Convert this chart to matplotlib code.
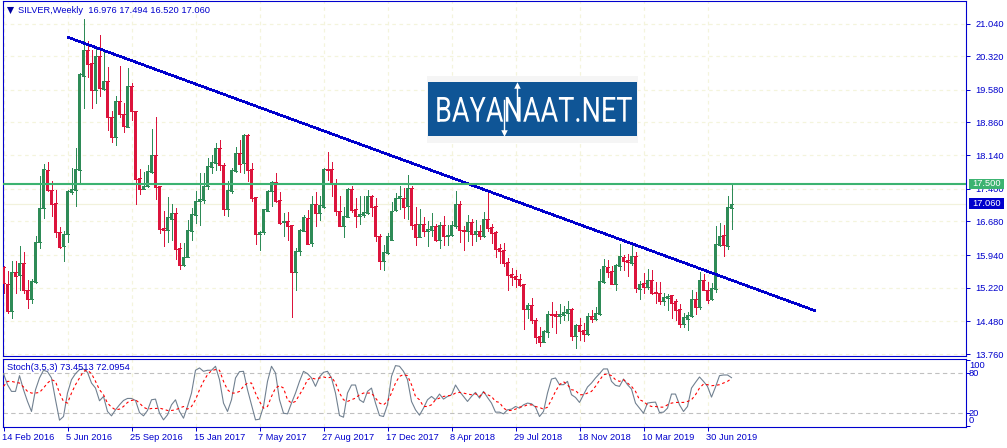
import matplotlib
matplotlib.use("Agg")
import matplotlib.pyplot as plt
from matplotlib.patches import Rectangle
from matplotlib.patheffects import AbstractPathEffect
from matplotlib.transforms import Affine2D, ScaledTranslation
from matplotlib.ticker import NullFormatter

symbol_title = "SILVER,Weekly  16.976 17.494 16.520 17.060"
stoch_title = "Stoch(3,5,3) 73.4513 72.0954"
brand = "BAYANAAT.NET"

opens = [15.67,15.31,14.70,15.57,15.49,15.76,15.17,14.97,15.35,16.22,16.97,17.82,17.38,17.08,16.45,16.13,16.41,17.32,17.38,17.82,
19.89,20.45,20.16,19.57,20.33,19.60,19.78,18.98,18.53,19.34,19.05,18.76,19.67,19.12,17.64,17.40,17.45,17.78,18.15,17.45,
16.54,16.50,16.74,16.87,16.10,15.72,15.90,16.48,16.83,17.12,17.16,17.45,17.89,17.96,18.30,17.92,16.96,17.36,17.80,18.19,
17.96,18.59,17.84,17.22,16.40,16.44,16.92,17.34,17.54,17.16,16.66,16.69,16.61,15.57,16.02,16.48,16.76,16.20,17.07,16.86,
16.99,17.83,17.84,17.52,16.91,16.58,16.78,17.40,16.96,16.80,16.82,16.87,17.24,17.02,16.36,15.81,15.99,16.27,16.94,17.20,
17.20,17.02,17.42,16.63,16.34,16.63,16.47,16.49,16.58,16.27,16.60,16.37,16.38,16.58,17.07,16.49,16.47,16.67,16.41,16.47,
16.35,16.74,16.56,16.45,16.10,16.05,15.79,15.52,15.48,15.41,15.30,14.75,14.84,14.51,14.16,14.02,14.24,14.64,14.64,14.60,
14.62,14.66,14.75,14.16,14.40,14.29,14.20,14.60,14.53,14.64,15.35,15.68,15.59,15.30,15.70,15.90,15.83,15.77,15.92,15.19,
15.32,15.24,15.39,15.13,15.10,14.93,15.00,15.05,14.92,14.75,14.42,14.53,14.60,14.97,14.80,15.39,15.17,14.97,15.19,16.16,
16.38,16.14,16.976]
highs = [15.69,15.58,15.80,15.80,16.14,16.00,15.39,15.41,16.36,17.69,17.95,17.99,17.58,17.38,16.56,16.46,17.38,17.86,18.30,19.94,
21.13,20.65,20.45,20.54,20.78,20.43,20.08,19.11,19.44,20.11,19.28,20.06,19.72,19.12,17.84,17.78,17.92,18.72,18.98,17.47,
16.91,17.22,17.07,16.97,16.20,16.20,16.72,16.97,17.34,17.75,17.75,18.08,18.14,18.41,18.48,17.97,17.56,17.86,18.31,18.48,
18.61,18.61,17.97,17.22,16.46,16.96,17.38,17.58,17.75,17.32,16.86,16.89,16.61,16.09,16.51,16.83,16.94,17.25,17.33,17.23,
17.86,18.22,17.98,17.61,17.24,16.99,17.41,17.46,17.19,17.25,17.25,17.38,17.27,17.19,16.41,16.16,16.42,17.11,17.30,17.45,
17.41,17.71,17.46,16.99,16.96,16.77,16.70,16.86,16.63,16.67,16.80,16.60,16.68,17.35,17.12,16.58,16.82,16.73,16.71,16.60,
16.88,17.34,16.63,16.47,16.19,16.20,15.87,15.65,15.61,15.52,15.30,14.88,14.99,14.55,14.36,14.29,14.71,14.91,14.71,14.86,
14.82,14.93,14.77,14.42,14.55,14.44,14.67,14.73,14.80,15.63,15.85,15.83,15.69,15.74,16.19,15.94,15.96,16.20,16.01,15.37,
15.54,15.63,15.60,15.35,15.35,15.10,15.08,15.06,14.97,14.86,14.67,14.69,15.17,15.12,15.57,15.52,15.35,15.32,16.58,16.64,
16.60,17.25,17.494]
lows = [15.10,14.66,14.56,15.10,15.17,15.10,14.78,14.89,15.33,16.09,16.75,17.36,16.81,16.34,16.09,15.80,16.22,17.29,17.03,17.53,
19.18,19.86,19.18,19.28,19.45,19.57,18.69,18.43,18.36,18.98,18.64,18.76,18.91,17.07,17.29,17.40,17.43,17.75,17.18,16.42,
16.14,16.22,16.28,15.86,15.63,15.69,15.89,16.28,16.64,16.61,17.08,17.40,17.75,17.82,17.82,16.83,16.81,17.31,17.78,17.78,
17.75,17.58,17.12,16.19,16.04,16.41,16.90,17.01,17.11,16.63,16.35,16.28,14.58,15.17,15.95,16.46,16.18,16.13,16.57,16.72,
16.97,17.60,17.23,16.82,16.57,16.33,16.77,16.89,16.55,16.63,16.77,16.85,16.80,16.25,15.63,15.61,15.96,16.27,16.91,16.96,
16.76,16.74,16.52,16.16,16.33,16.36,16.13,16.35,16.25,16.10,16.16,16.16,16.36,16.53,16.23,16.04,16.26,16.16,16.26,16.30,
16.33,16.46,16.21,15.89,15.76,15.69,15.17,15.28,15.24,15.26,14.31,14.55,14.45,14.01,13.94,14.02,14.14,14.36,14.23,14.45,
14.51,14.51,14.07,13.89,14.07,14.05,14.18,14.47,14.51,14.62,15.32,15.46,15.30,15.17,15.60,15.61,15.48,15.72,15.13,14.97,
15.10,15.19,15.08,14.89,14.86,14.84,14.73,14.56,14.52,14.36,14.35,14.29,14.58,14.64,14.75,15.16,14.88,14.94,15.13,16.14,
15.91,16.07,16.52]
closes = [15.32,14.70,15.57,15.47,15.76,15.16,14.97,15.37,16.23,16.98,17.84,17.38,17.07,16.44,16.11,16.41,17.34,17.40,17.84,19.92,
20.45,20.14,19.57,20.33,19.61,19.78,18.97,18.53,19.34,19.05,18.78,19.67,19.11,17.62,17.40,17.47,17.80,18.15,17.43,16.52,
16.50,16.78,16.86,16.08,15.71,15.90,16.50,16.85,17.14,17.18,17.47,17.91,17.98,18.30,17.92,16.96,17.38,17.82,18.19,17.95,
18.59,17.82,17.20,16.41,16.45,16.96,17.36,17.55,17.13,16.64,16.69,16.58,15.57,16.03,16.50,16.78,16.19,17.07,16.86,17.05,
17.84,17.82,17.53,16.90,16.58,16.80,17.40,16.94,16.80,16.85,16.89,17.24,17.00,16.35,15.81,16.01,16.36,16.91,17.20,17.24,
17.00,17.42,16.60,16.34,16.63,16.47,16.52,16.57,16.27,16.60,16.36,16.38,16.60,17.07,16.49,16.48,16.67,16.41,16.47,16.36,
16.74,16.54,16.43,16.07,16.03,15.77,15.50,15.46,15.41,15.28,14.75,14.84,14.51,14.13,14.02,14.27,14.64,14.62,14.60,14.64,
14.69,14.75,14.16,14.40,14.27,14.20,14.60,14.53,14.66,15.37,15.70,15.57,15.30,15.72,15.92,15.81,15.79,15.92,15.21,15.30,
15.24,15.39,15.10,15.10,14.93,15.02,15.04,14.89,14.73,14.42,14.57,14.62,14.97,14.80,15.39,15.17,14.95,15.21,16.19,16.36,
16.16,17.00,17.06]

stoch_k = [79.5,62.9,52.8,52.8,76.5,55.3,37.7,22.6,55.3,73,84.6,82.5,73,40.2,9.5,15,50.3,70.4,79.5,85.6,
86.6,81.5,65.4,57.8,38.7,45.2,22.6,16,25.1,32.6,39.2,42.2,42.2,39.2,21,16,24.1,40.2,41.2,20,
10,17.5,32.6,40.2,22.6,12.5,30.1,50.3,84.6,88.1,83,84.6,84.6,90.6,70.4,35.2,22.6,40.2,73,82.5,
83,55.3,32.6,10,11,30.1,67.9,90.6,80.5,40.2,20,19,35.2,50.3,67.9,83,79.5,73,60.4,74.5,
81.5,83,73,50.3,16.5,14,50.3,62.4,62.4,40.2,36.2,52.8,57.8,35.2,16.5,15,32.6,75.5,91.6,90.6,
83,70.4,37.7,25.1,17,27.6,40.2,45.2,40.2,48.8,41.2,45.2,47.8,62.4,52.8,45.2,37.7,45.2,51.3,42.7,
52.8,43.7,35.2,21.6,21.6,19,25.1,26.1,30.1,27.6,32.6,35.2,34.2,29.1,15,22.6,50.3,71.4,73,62.9,
62.9,67.9,47.8,43.7,36.2,47.8,59.4,65.4,73,79.5,86.6,86.6,67.9,61.9,60.4,71.4,62.9,56.3,35.2,27.6,
20,35.2,36.2,36.7,21,21.6,27.6,48.8,48.8,32.6,22.6,30.1,57.8,66.4,74.5,67.9,60.4,44.2,59.4,76.5,
77.5,77.5,73.45]
stoch_d = [60.4,67.9,67.9,66.4,65.4,59.4,52.8,50.3,50.3,51.3,57.8,65.4,70.4,67.9,50.3,37.7,35.2,50.3,62.9,73,
83,84.6,79.5,67.9,55.3,47.8,35.2,29.1,25.1,26.1,30.1,36.2,39.2,40.2,35.2,29.1,26.1,27.1,27.1,27.6,
26.1,24.1,24.1,25.1,27.6,30.1,26.1,30.1,40.2,55.3,67.9,78,84,85.6,84.6,67.9,55.3,50.3,50.3,52.8,
60.4,65.4,65.4,50.3,37.7,27.6,30.1,45.2,57.8,61.4,57.8,40.2,35.2,37.7,47.8,57.8,70.4,73,71.4,73,
74.5,73,74.5,65.4,50.3,40.2,37.7,40.2,42.7,47.8,50.3,50.3,50.3,42.7,35.2,32.6,37.7,50.3,65.4,75.5,
78,76.5,62.9,45.2,40.2,30.1,30.1,32.6,40.2,42.7,45.2,46.2,46.8,50.3,51.3,50.3,48.8,47.8,49.3,45.2,
51.3,47.8,45.2,37.7,36.2,27.6,24.1,24.1,26.1,29.1,30.1,32.6,32.6,30.1,28.6,26.1,29.1,40.2,52.8,62.9,
67.4,62.9,55.3,54.3,47.8,47.8,50.3,52.8,60.4,69.4,78,79,76.5,70.4,67.9,70.4,65.4,60.4,52.8,40.2,
37.7,32.6,30.1,30.1,29.1,29.1,32.6,35.2,36.2,36.2,36.2,37.7,40.2,47.8,57.8,63.9,62.9,61.4,61.9,62.9,
65.4,67.9,72.1]

price_ticks = [13.76,14.48,15.22,15.94,16.68,17.40,18.14,18.86,19.58,20.32,21.04]
date_labels = ["14 Feb 2016","5 Jun 2016","25 Sep 2016","15 Jan 2017","7 May 2017","27 Aug 2017","17 Dec 2017",
               "8 Apr 2018","29 Jul 2018","18 Nov 2018","10 Mar 2019","30 Jun 2019"]
date_bars = [0,16,32,48,64,80,96,112,128,144,160,176]
resistance = 17.50
last_price = 17.06
trend_bars = [16,203]
trend_prices = [20.74,14.71]
stoch_levels = [20,80]

W,H = 1007,448
BLUE="#0000CD"; UP="#2E8B57"; DOWN="#DC143C"; GRID="#F4F4DC"; LEVEL="#C0C0C0"; RES="#3CB371"
FS=6.7
plt.rcParams['font.family']="Liberation Sans"
fig=plt.figure(figsize=(W/100,H/100),dpi=100,facecolor="white")
def rect(l,t,r,b): return [l/W,1-b/H,(r-l)/W,(b-t)/H]
ax=fig.add_axes(rect(2.5,0.5,966,356))
sub=fig.add_axes(rect(2.5,358.5,966,427))
xlim=(-0.25,240.625)
px=0.72
ax.set_xlim(xlim); sub.set_xlim(xlim)
ax.set_ylim(13.716,21.547); sub.set_ylim(-0.76,102.3)
for a in (ax,sub):
    a.set_facecolor("white")
    for s in a.spines.values():
        s.set_color(BLUE); s.set_linewidth(px*1.1)
    a.set_xticks(date_bars)
    a.grid(True,axis='x',color=GRID,lw=px*1.2,ls=(0,(3,3)),zorder=0)
    a.set_axisbelow(True)
ax.set_yticks(price_ticks)
ax.grid(True,axis='y',color=GRID,lw=px*1.2,ls=(0,(3,3)),zorder=0)
ax.yaxis.tick_right()
ax.tick_params(axis='y',colors=BLUE,length=3,width=px,pad=3.8,labelsize=FS)
ax.set_yticklabels([f"{p:.3f}" for p in price_ticks])
ax.tick_params(axis='x',length=0,labelbottom=False)
ax.axhline(last_price,color="#F2F2DC",lw=px*1.2,zorder=0.5)

bars=list(range(len(opens)))
for i,o,h,l,c in zip(bars,opens,highs,lows,closes):
    col=UP if c>=o else DOWN
    ax.vlines(i,l,h,color=col,lw=px,zorder=2,antialiased=False)
    ax.bar(i,abs(c-o),bottom=min(o,c),width=0.75,color=col,lw=0,zorder=3,antialiased=False)
    ax.hlines([o,c],i-0.375,i+0.375,color=col,lw=px,zorder=3,antialiased=False)

ax.plot(trend_bars,trend_prices,color=BLUE,lw=px*1.6,zorder=4,solid_capstyle='butt',antialiased=False)
ax.axhline(resistance,color=RES,lw=px*2.1,zorder=5)

fig.text(18/W,1-10.5/H,symbol_title,color=BLUE,fontsize=FS,va='center',ha='left')
ax.scatter([9.5/W],[1-10.5/H],marker='v',s=26,color="#0000A0",transform=fig.transFigure,zorder=8,clip_on=False,lw=0)

# price tags on the axis
for txt,bg,y0,y1 in (("17.060",BLUE,198,208.7),("17.500",RES,178.7,189)):
    fig.add_artist(Rectangle((968.5/W,1-y1/H),35.5/W,(y1-y0)/H,transform=fig.transFigure,facecolor=bg,edgecolor='none',zorder=10))
    fig.text(972.5/W,1-(y0+y1)/2/H,txt,color="white",fontsize=FS,va='center',ha='left',zorder=11)

# logo
inv=ax.transData.inverted()
def d(xp,yp): return inv.transform(fig.transFigure.transform((xp/W,1-yp/H)))
p0=d(426.7,142.7); p1=d(638,76)
ax.add_patch(Rectangle(p0,p1[0]-p0[0],p1[1]-p0[1],facecolor="#F5F5F5",edgecolor='none',zorder=12))
p0=d(427.7,135.7); p1=d(636.7,82)
ax.add_patch(Rectangle(p0,p1[0]-p0[0],p1[1]-p0[1],facecolor="#0F5596",edgecolor='none',zorder=13))

class Squeeze(AbstractPathEffect):
    """Scale a text horizontally about a pixel column."""
    def __init__(self,sx,cx):
        super().__init__()
        self.sx,self.cx=sx,cx
    def draw_path(self,renderer,gc,tpath,affine,rgbFace=None):
        t=affine+Affine2D().translate(-self.cx,0).scale(self.sx,1).translate(self.cx,0)
        renderer.draw_path(gc,tpath,t,rgbFace)

tb=fig.text(534/W,1-121.7/H,brand,color="white",family="Roboto",fontsize=25,va='baseline',ha='center',zorder=15)
fig.canvas.draw()
sx=198/tb.get_window_extent().width
tb.set_path_effects([Squeeze(sx,534)])
for xa,ya0,ya1,m in ((504.3,100,133,'v'),(517,85,120,'^')):
    a0=d(xa,ya0);a1=d(xa,ya1)
    ax.plot([a0[0],a1[0]],[a0[1],a1[1]],color="white",lw=1,zorder=14,clip_on=False)
    tip=a1 if m=='v' else a0
    ax.scatter([tip[0]],[tip[1]],marker=m,s=22,color="white",lw=0,zorder=14)
ax.set_xlim(xlim); ax.set_ylim(13.716,21.547)

# stochastic
sub.axhline(stoch_levels[0],color=LEVEL,lw=px*1.1,ls=(0,(4,3)),zorder=1)
sub.axhline(stoch_levels[1],color=LEVEL,lw=px*1.1,ls=(0,(4,3)),zorder=1)
sub.plot(bars,stoch_k,color="#708090",lw=px*1.1,zorder=3)
sub.plot(bars,stoch_d,color="#FF0000",lw=px*1.1,ls=(0,(2.5,2.5)),zorder=4)
fig.text(7/W,1-367.5/H,stoch_title,color=BLUE,fontsize=FS,va='center',ha='left')
sub.yaxis.tick_right()
sub.set_yticks([0,20,80,100])
sub.yaxis.set_major_formatter(NullFormatter())
sub.tick_params(axis='y',colors=BLUE,length=3,width=px)
for v,lab,dy in ((100,"100",-5),(80,"80",0),(20,"20",0),(0,"0",6)):
    sub.annotate(lab,(1,v),xycoords=('axes fraction','data'),xytext=(3,dy),textcoords='offset pixels',
                 color=BLUE,fontsize=FS,va='center',ha='left',annotation_clip=False)
sub.set_xticklabels(date_labels,ha='left',color=BLUE,fontsize=FS)
sub.tick_params(axis='x',colors=BLUE,length=3,width=px,pad=1.5)
shift=ScaledTranslation(-1/100,0,fig.dpi_scale_trans)
for t in sub.get_xticklabels():
    t.set_transform(t.get_transform()+shift)
fig.savefig("out.png",dpi=100,facecolor="white")
